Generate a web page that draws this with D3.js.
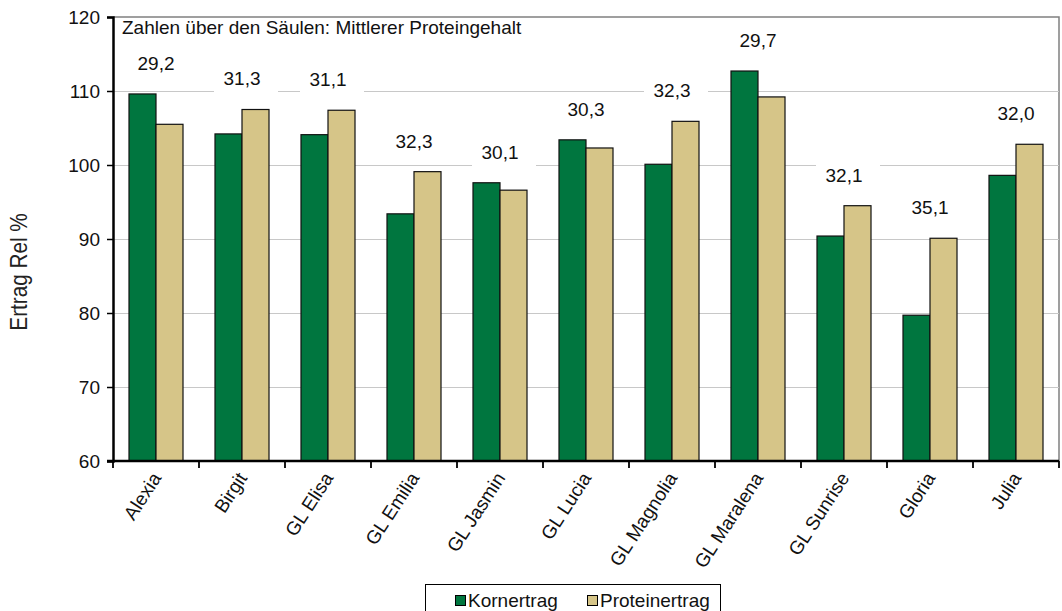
<!DOCTYPE html>
<html><head><meta charset="utf-8">
<script src="https://cdn.jsdelivr.net/npm/d3@7"></script>
<style>
html,body{margin:0;padding:0;background:#fff;}
svg{display:block;font-family:"Liberation Sans",Arial,sans-serif;}
</style></head>
<body>
<svg id="chart" width="1062" height="611"></svg>
<script>
const categories = ["Alexia","Birgit","GL Elisa","GL Emilia","GL Jasmin","GL Lucia","GL Magnolia","GL Maralena","GL Sunrise","Gloria","Julia"];
const kornertrag = [109.6,104.2,104.1,93.4,97.6,103.4,100.1,112.7,90.4,79.7,98.6];
const proteinertrag = [105.5,107.5,107.4,99.1,96.6,102.3,105.9,109.2,94.5,90.1,102.8];
const proteingehalt = ["29,2","31,3","31,1","32,3","30,1","30,3","32,3","29,7","32,1","35,1","32,0"];
const seriesNames = ["Kornertrag","Proteinertrag"];
const yTicks = [60,70,80,90,100,110,120];
const titleText = "Zahlen über den Säulen: Mittlerer Proteingehalt";
const yLabel = "Ertrag Rel %";

const colors = ["#00763f","#d6c588"];
const svg = d3.select("#chart");
const L = 113, R = 1059, T = 17, B = 461;

const x = d3.scaleBand().domain(categories).range([L, R]).paddingInner(0.372).paddingOuter(0.186);
const x1 = d3.scaleBand().domain(seriesNames).range([0, x.bandwidth()]);
const y = d3.scaleLinear().domain([60,120]).range([B, T]);

// plot border (top/right)
svg.append("path").attr("d",`M${L},${T}H${R}V${B}`).attr("fill","none").attr("stroke","#808080").attr("stroke-width",1.5);

// gridlines
svg.append("g").selectAll("line").data(yTicks.filter(t=>t>60 && t<120)).join("line")
  .attr("x1",L).attr("x2",R).attr("y1",d=>Math.round(y(d))+0.5).attr("y2",d=>Math.round(y(d))+0.5)
  .attr("stroke","#c8c8c8").attr("stroke-width",1.2);

// label white boxes and labels
const step = x.step();
const lab = svg.append("g");
categories.forEach((c,i)=>{
  const cx = x(c) + x.bandwidth()/2;
  const top = y(Math.max(kornertrag[i], proteinertrag[i]));
  const cy = top - 31;
  lab.append("rect").attr("x",cx-28).attr("y",cy-15).attr("width",64).attr("height",31).attr("fill","#fff");
});

// bars
const groups = svg.append("g").selectAll("g").data(categories).join("g")
  .attr("transform",d=>`translate(${x(d)},0)`);
groups.selectAll("rect").data((d,i)=>[{s:seriesNames[0],v:kornertrag[i]},{s:seriesNames[1],v:proteinertrag[i]}]).join("rect")
  .attr("x",d=>x1(d.s)).attr("width",x1.bandwidth())
  .attr("y",d=>y(d.v)).attr("height",d=>B-y(d.v))
  .attr("fill",(d,j)=>colors[j]).attr("stroke","#111").attr("stroke-width",1.2);

categories.forEach((c,i)=>{
  const cx = x(c) + x.bandwidth()/2;
  const top = y(Math.max(kornertrag[i], proteinertrag[i]));
  lab.append("text").attr("x",cx).attr("y",top-31).attr("dy","0.36em").attr("text-anchor","middle")
    .attr("font-size",19).attr("fill","#111").text(proteingehalt[i]);
});
lab.raise();

// title
svg.append("text").attr("x",122).attr("y",34).attr("font-size",19).attr("fill","#111").text(titleText);

// y axis
const yAxis = d3.axisLeft(y).tickValues(yTicks).tickSize(6).tickPadding(7).tickFormat(d3.format("d"));
const gy = svg.append("g").attr("transform",`translate(${L},0)`).call(yAxis);
gy.select(".domain").attr("stroke","#000").attr("stroke-width",2.5);
gy.selectAll(".tick line").attr("stroke","#000").attr("stroke-width",1.5);
gy.selectAll(".tick text").attr("font-size",19).attr("fill","#111").attr("font-family","Liberation Sans, Arial, sans-serif");

// x axis
const gx = svg.append("g").attr("transform",`translate(0,${B})`);
gx.append("line").attr("x1",L-6).attr("x2",R).attr("y1",0).attr("y2",0).attr("stroke","#000").attr("stroke-width",2.5);
const bounds = categories.map(c=>x(c)-(step-x.bandwidth())/2).concat([R]);
gx.selectAll("line.t").data(bounds).join("line").attr("class","t")
  .attr("x1",d=>d).attr("x2",d=>d).attr("y1",0).attr("y2",7).attr("stroke","#000").attr("stroke-width",1.8);
gx.selectAll("text").data(categories).join("text")
  .attr("transform",d=>`translate(${x(d)+x.bandwidth()/2+6},${17}) rotate(-57)`)
  .attr("text-anchor","end").attr("font-size",19).attr("fill","#111").text(d=>d);

// y label
svg.append("text").attr("transform","translate(27,272) rotate(-90) scale(0.9,1)").attr("text-anchor","middle")
  .attr("font-size",23).attr("fill","#222").text(yLabel);

// legend
const lg = svg.append("g");
lg.append("rect").attr("x",425.5).attr("y",584.5).attr("width",295).attr("height",40).attr("fill","#fff").attr("stroke","#000").attr("stroke-width",1);
const items = [{n:seriesNames[0],c:colors[0],x:455},{n:seriesNames[1],c:colors[1],x:587}];
items.forEach(it=>{
  lg.append("rect").attr("x",it.x+0.5).attr("y",595.5).attr("width",10).attr("height",10).attr("fill",it.c).attr("stroke","#000").attr("stroke-width",1);
  lg.append("text").attr("x",it.x+13).attr("y",607).attr("font-size",19).attr("fill","#111").text(it.n);
});
</script>
</body></html>
